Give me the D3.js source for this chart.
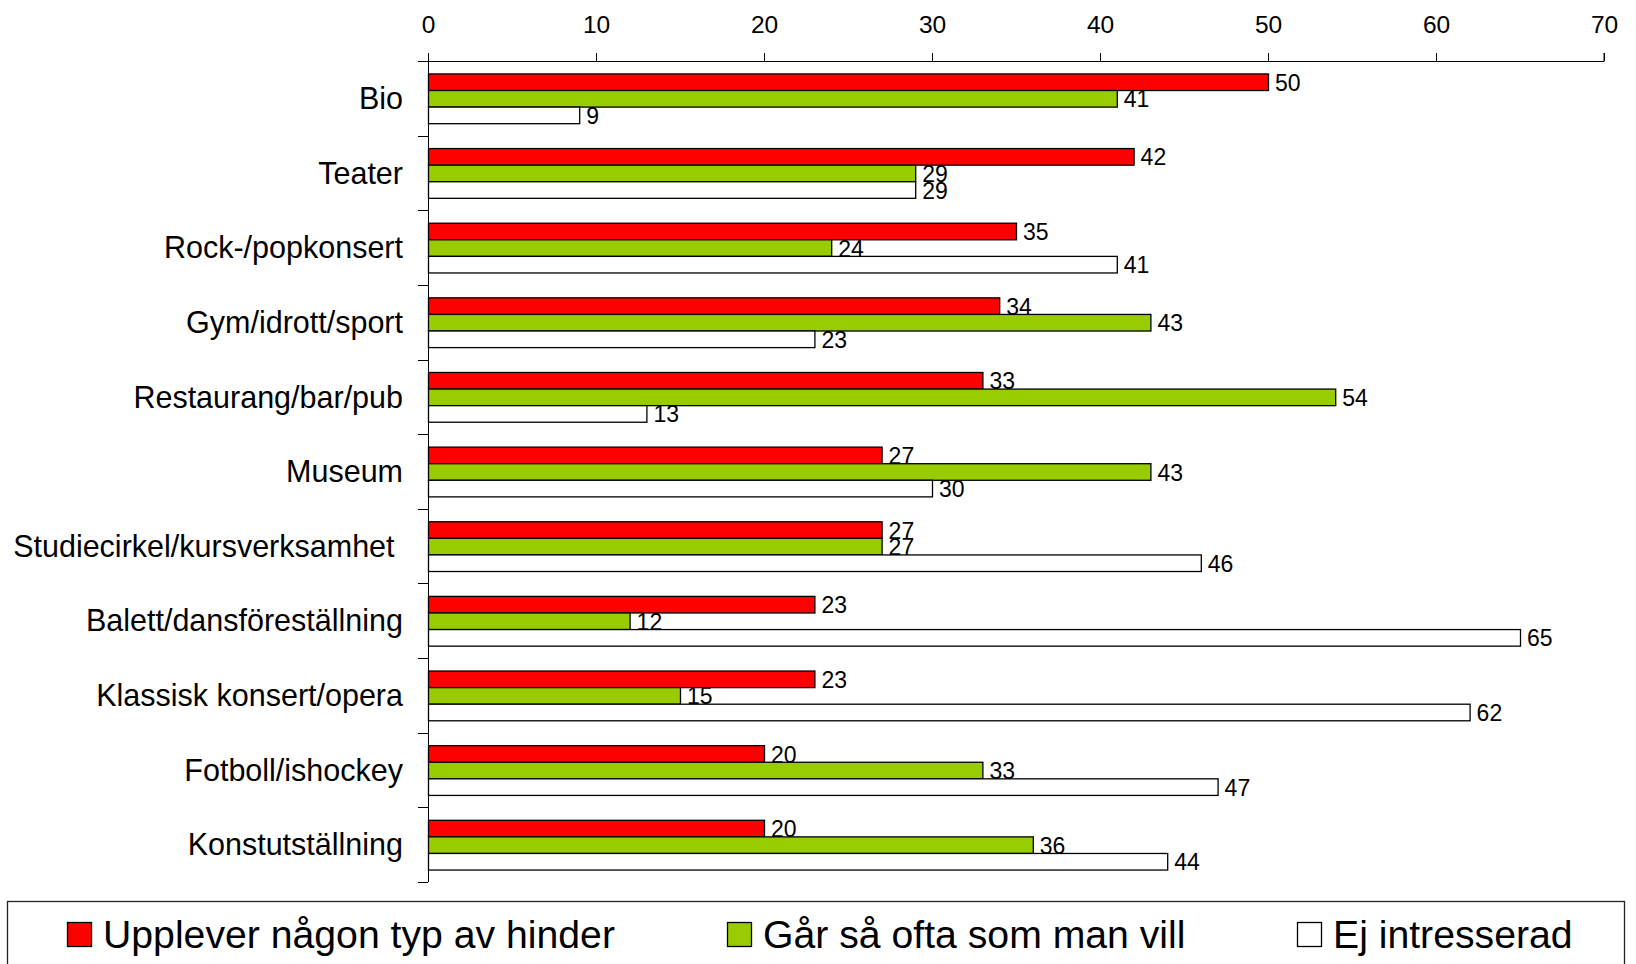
<!DOCTYPE html>
<html>
<head>
<meta charset="utf-8">
<script src="https://cdnjs.cloudflare.com/ajax/libs/d3/7.8.5/d3.min.js"></script>
<style>
  body { margin: 0; background: #fff; }
  text { font-family: Arial, "Liberation Sans", sans-serif; fill: #000; }
</style>
</head>
<body>
<div id="viz"></div>
<script>
// chart data
var categories = ['Bio', 'Teater', 'Rock-/popkonsert', 'Gym/idrott/sport', 'Restaurang/bar/pub',
  'Museum', 'Studiecirkel/kursverksamhet ', 'Balett/dansföreställning', 'Klassisk konsert/opera',
  'Fotboll/ishockey', 'Konstutställning'];
var hinder = [50, 42, 35, 34, 33, 27, 27, 23, 23, 20, 20];
var oftaSomManVill = [41, 29, 24, 43, 54, 43, 27, 12, 15, 33, 36];
var ejIntresserad = [9, 29, 41, 23, 13, 30, 46, 65, 62, 47, 44];
var seriesNames = ['Upplever någon typ av hinder', 'Går så ofta som man vill', 'Ej intresserad'];
var seriesColors = ['#ff0000', '#99cc00', '#ffffff'];
var xTicks = [0, 10, 20, 30, 40, 50, 60, 70];

var series = [hinder, oftaSomManVill, ejIntresserad];

var svg = d3.select('#viz').append('svg')
  .attr('width', 1636)
  .attr('height', 964);

// plot area
var plotLeft = 428, plotTop = 61, plotRight = 1604, plotBottom = 882;

var x = d3.scaleLinear().domain([0, 70]).range([plotLeft, plotRight]);
var y = d3.scaleBand().domain(categories).range([plotTop, plotBottom]).paddingInner(1 / 3).paddingOuter(1 / 6);
var ySub = d3.scaleBand().domain([0, 1, 2]).range([0, y.bandwidth()]);

// top value axis
var xAxis = svg.append('g')
  .attr('transform', 'translate(0,' + plotTop + ')')
  .call(d3.axisTop(x).tickValues(xTicks).tickSize(8).tickPadding(20));
xAxis.selectAll('text').style('font-size', '24.5px');
xAxis.select('.domain').attr('d', 'M' + (plotLeft - 10) + ',0.5H' + plotRight + 'V-8');
xAxis.selectAll('line, path').attr('stroke', '#000');

// category axis on the left, ticks between the groups
var yEdges = d3.range(categories.length + 1).map(function (i) {
  return plotTop + i * (plotBottom - plotTop) / categories.length;
});
var catAxis = svg.append('g');
catAxis.append('line')
  .attr('x1', plotLeft + 0.5).attr('x2', plotLeft + 0.5)
  .attr('y1', plotTop).attr('y2', plotBottom)
  .attr('stroke', '#000');
catAxis.selectAll('.cat-tick')
  .data(yEdges.slice(1))
  .enter().append('line')
  .attr('class', 'cat-tick')
  .attr('x1', plotLeft - 10).attr('x2', plotLeft)
  .attr('y1', function (d) { return Math.round(d) + 0.5; })
  .attr('y2', function (d) { return Math.round(d) + 0.5; })
  .attr('stroke', '#000');
catAxis.selectAll('.cat-label')
  .data(categories)
  .enter().append('text')
  .attr('class', 'cat-label')
  .attr('x', 403)
  .attr('y', function (d) { return y(d) + y.bandwidth() / 2; })
  .attr('dy', '0.35em')
  .attr('text-anchor', 'end')
  .style('white-space', 'pre')
  .style('font-size', '30.5px')
  .text(function (d) { return d; });

// bars
series.forEach(function (vals, s) {
  var g = svg.append('g').attr('class', 'series-' + s);
  g.selectAll('rect')
    .data(vals)
    .enter().append('rect')
    .attr('x', x(0) + 0.5)
    .attr('y', function (d, i) { return y(categories[i]) + ySub(s) + 0.5; })
    .attr('width', function (d) { return x(d) - x(0); })
    .attr('height', ySub.bandwidth())
    .attr('fill', seriesColors[s])
    .attr('stroke', '#000')
    .attr('stroke-width', 1.3);
  g.selectAll('text')
    .data(vals)
    .enter().append('text')
    .attr('x', function (d) { return x(d) + 7; })
    .attr('y', function (d, i) { return y(categories[i]) + ySub(s) + ySub.bandwidth() / 2 + 1; })
    .attr('dy', '0.35em')
    .style('font-size', '23px')
    .text(function (d) { return d; });
});

// legend
svg.append('rect')
  .attr('x', 7.5).attr('y', 901.5)
  .attr('width', 1617).attr('height', 100)
  .attr('fill', 'none')
  .attr('stroke', '#222')
  .attr('stroke-width', 1.3);
var legendX = [67, 727, 1297];
var legend = svg.selectAll('.legend-item')
  .data(seriesNames)
  .enter().append('g')
  .attr('class', 'legend-item')
  .attr('transform', function (d, i) { return 'translate(' + legendX[i] + ',922)'; });
legend.append('rect')
  .attr('x', 0.5).attr('y', 0.5)
  .attr('width', 24).attr('height', 24)
  .attr('fill', function (d, i) { return seriesColors[i]; })
  .attr('stroke', '#000')
  .attr('stroke-width', 1.3);
legend.append('text')
  .attr('x', 36)
  .attr('y', 26)
  .style('font-size', '39.2px')
  .text(function (d) { return d; });
</script>
</body>
</html>
